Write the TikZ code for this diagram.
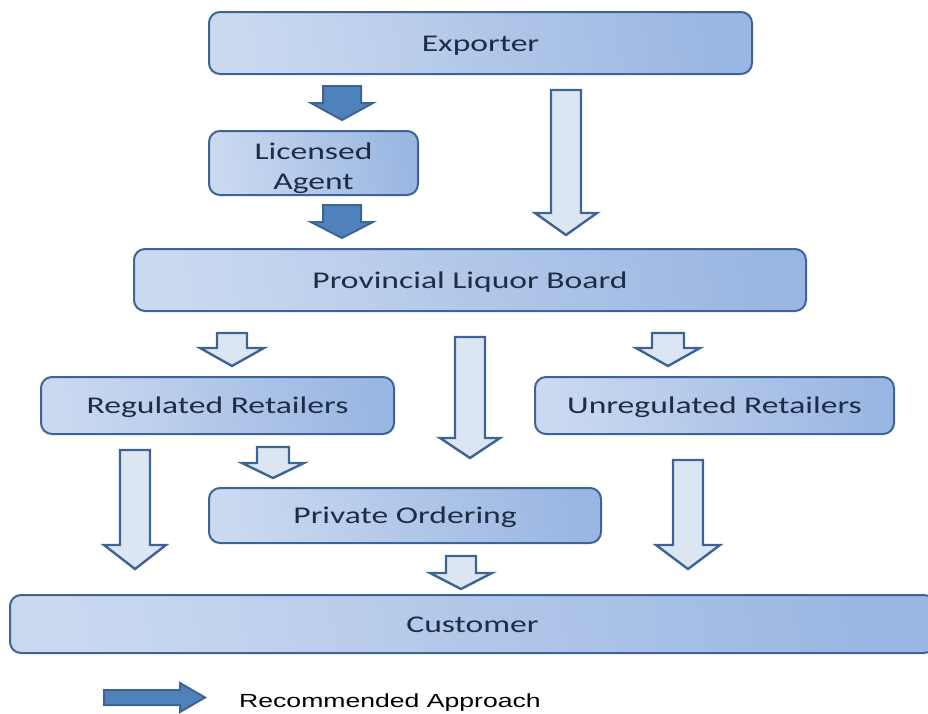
\documentclass[tikz,border=0pt]{standalone}
\usepackage{fontspec}
\setmainfont{Carlito}[FakeStretch=1.4]
\newfontfamily\legendfont{Liberation Sans}[FakeStretch=1.4]
\definecolor{boxL}{HTML}{CAD9F0}
\definecolor{boxR}{HTML}{9AB6E2}
\definecolor{boxline}{HTML}{3D6495}
\definecolor{txt}{HTML}{1E2D45}
\definecolor{lightfill}{HTML}{DCE6F2}
\definecolor{darkfill}{HTML}{4F81BD}
\newcommand\blkarrow[7]{%
  \draw[#1] (#2-#6,#3) -- (#2+#6,#3) -- (#2+#6,#4) -- (#2+#7,#4) -- (#2,#5)
    -- (#2-#7,#4) -- (#2-#6,#4) -- cycle;}
\begin{document}
\begin{tikzpicture}[x=1pt,y=-1pt,
  flowbox/.style={draw=boxline, line width=2pt, rounded corners=11pt,
    left color=boxL, right color=boxR, shading angle=100,
    text=txt, font=\fontsize{24}{30}\selectfont, inner sep=0pt, align=center},
  oneline/.style={text height=16.5pt, text depth=0pt},
  lightarr/.style={draw=boxline, line width=2.4pt, fill=lightfill, line join=miter},
  darkarr/.style={draw=boxline, line width=2pt, fill=darkfill, line join=miter}]
\useasboundingbox (0,0) rectangle (928,713);
\begin{scope}
\clip (0,0) rectangle (928,713);
\node[flowbox, oneline, minimum width=543pt, minimum height=62pt] (exp) at (480.5,43) {Exporter};
\node[flowbox, minimum width=209pt, minimum height=64pt] (agent) at (313.5,163)
  {\raisebox{-12pt}[0pt][0pt]{\begin{tabular}{@{}c@{}}Licensed\\Agent\end{tabular}}};
\node[flowbox, oneline, minimum width=672pt, minimum height=62pt] (board) at (470,280) {Provincial Liquor Board};
\node[flowbox, oneline, minimum width=353pt, minimum height=57pt] (reg) at (217.5,405.5) {Regulated Retailers};
\node[flowbox, oneline, minimum width=359pt, minimum height=57pt] (unreg) at (714.5,405.5) {Unregulated Retailers};
\node[flowbox, oneline, minimum width=392pt, minimum height=55pt] (priv) at (405,515.5) {Private Ordering};
\node[flowbox, oneline, minimum width=925pt, minimum height=58pt] (cust) at (472.5,624) {Customer};

% dark (recommended) arrows
\blkarrow{darkarr}{342}{86}{103}{120}{19}{31}
\blkarrow{darkarr}{342}{205}{222}{238}{19}{31}
% light arrows
\blkarrow{lightarr}{566}{90}{213}{235}{15}{31}
\blkarrow{lightarr}{232}{333}{348}{366}{15}{32}
\blkarrow{lightarr}{470}{337}{438}{458}{15}{30}
\blkarrow{lightarr}{668}{333}{348}{366}{16}{32}
\blkarrow{lightarr}{135}{450}{545}{569}{15}{31}
\blkarrow{lightarr}{273}{447}{463}{478}{16}{31}
\blkarrow{lightarr}{688}{460}{545}{569}{15}{32}
\blkarrow{lightarr}{461}{556}{573}{589}{15}{31}

% legend
\draw[darkarr] (104,690) -- (180,690) -- (180,683) -- (205,697.5) -- (180,712) -- (180,705) -- (104,705) -- cycle;
\node[font=\legendfont\fontsize{19}{22}\selectfont, text=black, inner sep=0pt] (legend) at (390,703) {Recommended Approach};
\end{scope}
\end{tikzpicture}
\end{document}
